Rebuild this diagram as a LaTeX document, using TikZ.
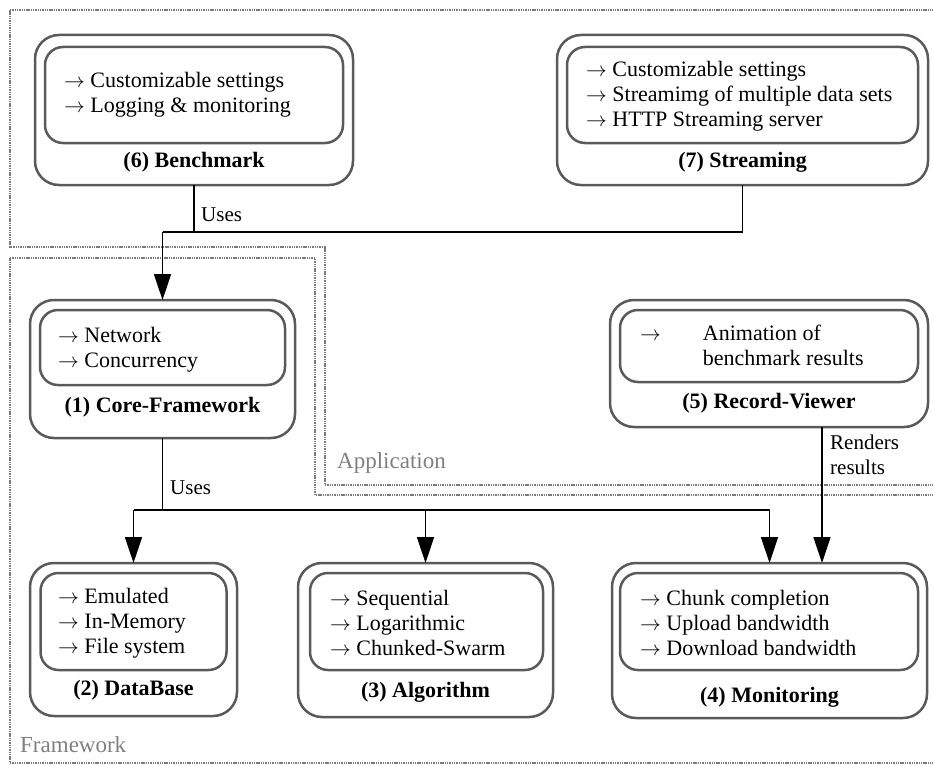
\documentclass[tikz,border=0pt]{standalone}
\usepackage{fontspec}
\setmainfont{Liberation Serif}[Ligatures=TeX]
\usetikzlibrary{arrows.meta}
\definecolor{boxgray}{HTML}{5A5A5A}
\definecolor{dotgray}{HTML}{7A7A7A}
\definecolor{labgray}{HTML}{7F7F7F}
\newcommand{\ar}{$\rightarrow$}
\begin{document}
\begin{tikzpicture}[x=1pt,y=-1pt,
 outerbox/.style={draw=boxgray, line width=2.5pt, rounded corners=24pt, inner sep=0pt, outer sep=0pt},
 innerbox/.style={draw=boxgray, line width=2.5pt, rounded corners=18pt, inner sep=0pt, outer sep=0pt},
 items/.style={align=left, font=\rmfamily\fontsize{22}{25}\selectfont, inner sep=0pt, anchor=west},
 title/.style={font=\rmfamily\fontsize{22}{24}\selectfont\bfseries, inner sep=0pt},
 region/.style={draw=dotgray, line width=2.2pt, dash pattern=on 1.4pt off 0.9pt},
 regionlabel/.style={text=labgray, font=\rmfamily\fontsize{23}{26}\selectfont, inner sep=0pt, anchor=west},
 conn/.style={draw=black, line width=1.6pt},
 arr/.style={conn, -{Triangle[length=26pt,width=17pt]}},
 lab/.style={font=\rmfamily\fontsize{21}{25}\selectfont, inner sep=0pt, anchor=west, align=left}
]
\useasboundingbox (0,0) rectangle (933,765);

% regions
\draw[region] (10,10) -- (945,10) -- (945,485) -- (325,485) -- (325,247) -- (10,247) -- cycle;
\draw[region] (10,258) -- (315,258) -- (315,495) -- (945,495) -- (945,763) -- (10,763) -- cycle;
\node[regionlabel] (applab) at (337,463) {Application};
\node[regionlabel] (fwlab) at (20,745) {Framework};

% (6) Benchmark
\node[outerbox, minimum width=318pt, minimum height=150pt] (bench) at (194,110) {};
\node[innerbox, minimum width=298pt, minimum height=96pt] (benchin) at (194,95) {};
\node[items] (benchtxt) at (64,95) {\ar\ Customizable settings\\\ar\ Logging \& monitoring};
\node[title] (benchttl) at (194,162) {(6) Benchmark};

% (7) Streaming
\node[outerbox, minimum width=371pt, minimum height=150pt] (stream) at (742.5,110) {};
\node[innerbox, minimum width=351pt, minimum height=96pt] (streamin) at (742.5,95) {};
\node[items] (streamtxt) at (586,96) {\ar\ Customizable settings\\\ar\ Streamimg of multiple data sets\\\ar\ HTTP Streaming server};
\node[title] (streamttl) at (742.5,162) {(7) Streaming};

% (1) Core-Framework
\node[outerbox, minimum width=265pt, minimum height=138pt] (core) at (162.5,369) {};
\node[innerbox, minimum width=245pt, minimum height=75pt] (corein) at (162.5,347.5) {};
\node[items] (coretxt) at (58,349.5) {\ar\ Network\\\ar\ Concurrency};
\node[title] (corettl) at (162.5,407) {(1) Core-Framework};

% (5) Record-Viewer
\node[outerbox, minimum width=318pt, minimum height=127pt] (rv) at (769,363.5) {};
\node[innerbox, minimum width=298pt, minimum height=72pt] (rvin) at (769,346) {};
\node[items] (rvtxt) at (640,347.5) {\begin{tabular}{@{}l@{\hspace{42pt}}l@{}}\ar & Animation of\\ & benchmark results\end{tabular}};
\node[title] (rvttl) at (769,403) {(5) Record-Viewer};

% (2) DataBase
\node[outerbox, minimum width=207pt, minimum height=153pt] (db) at (133.5,639.5) {};
\node[innerbox, minimum width=186pt, minimum height=97pt] (dbin) at (133.5,621.5) {};
\node[items] (dbtxt) at (58,623) {\ar\ Emulated\\\ar\ In-Memory\\\ar\ File system};
\node[title] (dbttl) at (133.5,690) {(2) DataBase};

% (3) Algorithm
\node[outerbox, minimum width=255pt, minimum height=154pt] (algo) at (425.5,640) {};
\node[innerbox, minimum width=233pt, minimum height=97pt] (algoin) at (426.5,621.5) {};
\node[items] (algotxt) at (330,623) {\ar\ Sequential\\\ar\ Logarithmic\\\ar\ Chunked-Swarm};
\node[title] (algottl) at (425.5,692) {(3) Algorithm};

% (4) Monitoring
\node[outerbox, minimum width=315pt, minimum height=155pt] (mon) at (769.5,640.5) {};
\node[innerbox, minimum width=298pt, minimum height=97pt] (monin) at (769,621.5) {};
\node[items] (montxt) at (640,623) {\ar\ Chunk completion\\\ar\ Upload bandwidth\\\ar\ Download bandwidth};
\node[title] (monttl) at (769.5,697) {(4) Monitoring};

% connectors (top)
\coordinate (j1) at (162.5,232);
\draw[conn] (bench.south) -- (bench.south |- j1);
\draw[conn] (stream.south) -- (stream.south |- j1) -- (j1);
\draw[arr] (j1) -- (core.north);
\node[lab] (uses1) at (201,215) {Uses};

% connectors (bottom)
\coordinate (j2) at (162.5,510);
\draw[conn] (core.south) -- (j2);
\draw[conn] (db.north |- j2) -- (mon.north |- j2);
\draw[arr] (db.north |- j2) -- (db.north);
\draw[arr] (algo.north |- j2) -- (algo.north);
\draw[arr] (mon.north |- j2) -- (mon.north);
\node[lab] (uses2) at (170,488) {Uses};

\draw[arr] ([xshift=53pt]rv.south) -- ([xshift=53pt]rv.south |- mon.north);
\node[lab] (renders) at (830,455) {Renders\\results};
\end{tikzpicture}
\end{document}
